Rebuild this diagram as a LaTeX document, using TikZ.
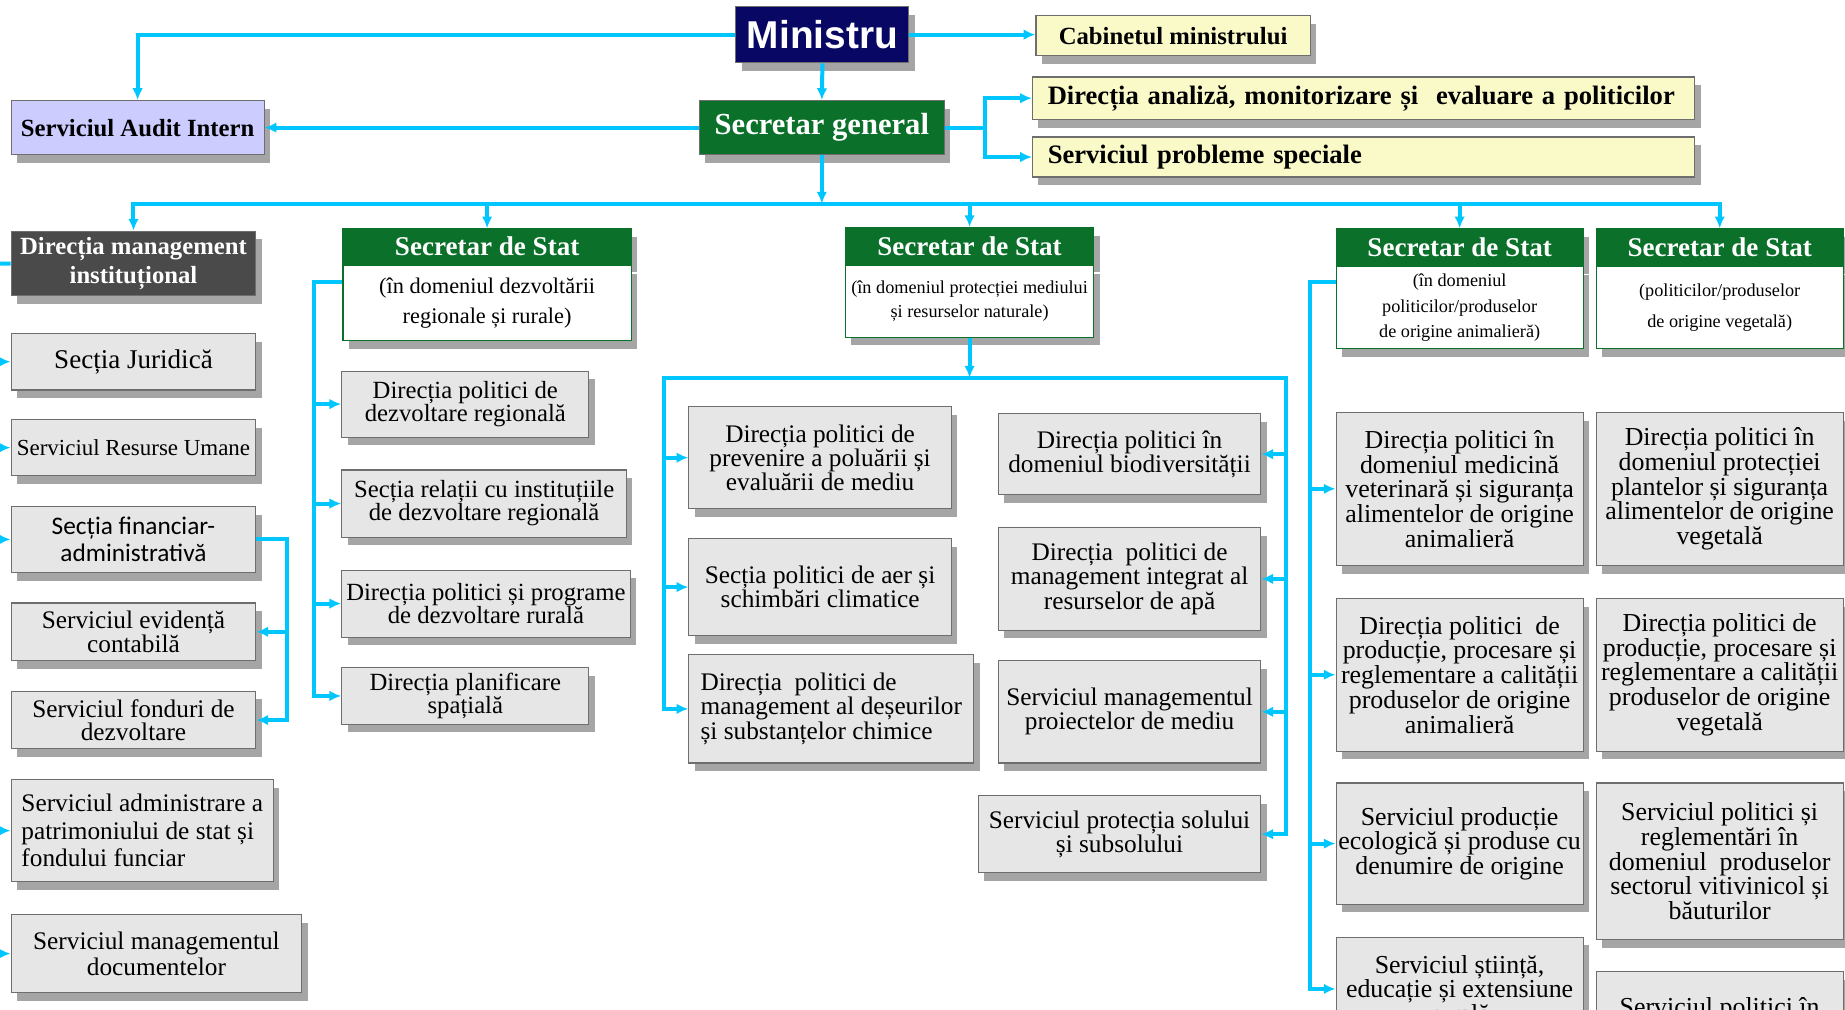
\documentclass[tikz,border=0pt]{standalone}
\usepackage{fontspec}
\setmainfont{Liberation Serif}
\newfontfamily\arialfont{Liberation Sans}
\newfontfamily\calfont{Carlito}
\usetikzlibrary{arrows.meta,shadows}
\definecolor{linkblue}{RGB}{0,198,255}
\definecolor{minblue}{RGB}{8,8,100}
\definecolor{secgreen}{RGB}{10,112,42}
\definecolor{cabyellow}{RGB}{250,250,200}
\definecolor{auditlilac}{RGB}{204,204,255}
\definecolor{mgmtgrey}{RGB}{74,74,74}
\definecolor{unitgrey}{RGB}{230,230,230}
\definecolor{unitline}{RGB}{110,110,110}
\begin{document}
\begin{tikzpicture}
	    [x=1pt, y=-1pt,
	     boxshadow/.style={drop shadow={shadow xshift=5pt, shadow yshift=-7pt, opacity=0.5, fill=black!70}},
	     unit/.style={draw=unitline, fill=unitgrey, line width=0.9pt, anchor=north west, align=center, inner sep=2pt, boxshadow, font=\fontsize{21.5}{20.5}\selectfont},
	     topbox/.style={draw=unitline, fill=cabyellow, line width=0.9pt, anchor=north west, inner sep=2pt, boxshadow, font=\bfseries\fontsize{21}{23}\selectfont},
	     sshead/.style={draw=secgreen, fill=secgreen, text=white, line width=1pt, anchor=north west, inner sep=1pt, boxshadow, font=\bfseries\fontsize{23}{25}\selectfont},
	     ssbody/.style={draw=secgreen, fill=white, line width=1pt, anchor=north, align=center, inner sep=1pt, boxshadow},
	     conn/.style={draw=linkblue, line width=3.4pt},
	     arr/.style={conn, -{Latex[length=10pt, width=9pt]}}]
	    \useasboundingbox (0,0) rectangle (1568,858);
	    \clip (0,0) rectangle (1568,858);
	    % top
	    \node[draw=unitline, fill=minblue, text=white, line width=0.9pt, anchor=north west, boxshadow, minimum width=147pt, minimum height=48pt, font=\arialfont\bfseries\fontsize{33}{36}\selectfont] (min) at (625,5) {Ministru};
	    \node[topbox, minimum width=233pt, minimum height=34pt] (cab) at (880,13) {Cabinetul ministrului};
	    \node[draw=unitline, fill=secgreen, text=white, line width=0.9pt, anchor=north west, boxshadow, minimum width=208pt, minimum height=46pt, font=\bfseries\fontsize{26}{28}\selectfont] (sg) at (594,85) {Secretar general};
	    \node[topbox, fill=auditlilac, minimum width=215pt, minimum height=46pt] (sai) at (9,85) {Serviciul Audit Intern};
	    \node[topbox, align=left, text width=537pt, inner xsep=13pt, minimum height=36pt, font=\bfseries\fontsize{22.6}{24}\selectfont] (dam) at (877,65) {Direcția analiză, monitorizare și\ \ evaluare a politicilor};
	    \node[topbox, align=left, text width=537pt, inner xsep=13pt, minimum height=34pt, font=\bfseries\fontsize{22.6}{24}\selectfont] (sps) at (877,116) {Serviciul probleme speciale};
	    % second row
	    \node[draw=unitline, fill=mgmtgrey, text=white, line width=0.9pt, anchor=north west, align=center, boxshadow, minimum width=208pt, minimum height=55pt, font=\bfseries\fontsize{21}{24}\selectfont] (dmi) at (9,196) {Direcția management\\instituțional};
	    \node[sshead, minimum width=245pt, minimum height=30pt] (ss1h) at (291,194) {Secretar de Stat};
	    \node[ssbody, minimum width=245pt, minimum height=64pt, font=\fontsize{19}{25.5}\selectfont] (ss1) at (ss1h.south) {(în domeniul dezvoltării\\regionale și rurale)};
	    \node[sshead, minimum width=211pt, minimum height=31pt] (ss2h) at (718,193) {Secretar de Stat};
	    \node[ssbody, minimum width=211pt, minimum height=61pt, font=\fontsize{15.5}{21}\selectfont] (ss2) at (ss2h.south) {(în domeniul protecției mediului\\și resurselor naturale)};
	    \node[sshead, minimum width=210pt, minimum height=31pt] (ss3h) at (1135,194) {Secretar de Stat};
	    \node[ssbody, minimum width=210pt, minimum height=70pt, font=\fontsize{15.5}{21.5}\selectfont] (ss3) at (ss3h.south) {(în domeniul\\politicilor/produselor\\de origine animalieră)};
	    \node[sshead, minimum width=210pt, minimum height=31pt] (ss4h) at (1356,194) {Secretar de Stat};
	    \node[ssbody, minimum width=210pt, minimum height=70pt, font=\fontsize{15.5}{27}\selectfont] (ss4) at (ss4h.south) {(politicilor/produselor\\de origine vegetală)};
	    % left column
	    \node[unit, minimum width=208pt, minimum height=48pt, font=\fontsize{23}{24}\selectfont] (sj) at (9,283) {Secția Juridică};
	    \node[unit, minimum width=208pt, minimum height=48pt, font=\fontsize{19.5}{21}\selectfont] (sru) at (9,356) {Serviciul Resurse Umane};
	    \node[unit, minimum width=208pt, minimum height=56pt, font=\calfont\fontsize{21.5}{23}\selectfont] (sfa) at (9,430) {Secția financiar-\\administrativă};
	    \node[unit, minimum width=208pt, minimum height=49pt] (sec) at (9,512) {Serviciul evidență\\contabilă};
	    \node[unit, minimum width=208pt, minimum height=49pt, font=\fontsize{21.5}{19.5}\selectfont] (sfd) at (9,587) {Serviciul fonduri de\\dezvoltare};
	    \node[unit, align=left, minimum width=223pt, minimum height=87pt, font=\fontsize{21.5}{23.5}\selectfont] (sap) at (9,662) {Serviciul administrare a\\patrimoniului de stat și\\fondului funciar};
	    \node[unit, minimum width=247pt, minimum height=66pt, font=\fontsize{21.5}{22}\selectfont] (smd) at (9,777) {Serviciul managementul\\documentelor};
	    % dezvoltare regionala
	    \node[unit, minimum width=210pt, minimum height=56pt, font=\fontsize{21}{19.5}\selectfont] (dpdr) at (290,315) {Direcția politici de\\dezvoltare regională};
	    \node[unit, minimum width=242pt, minimum height=57pt, font=\fontsize{21}{19.5}\selectfont] (srid) at (290,399) {Secția relații cu instituțiile\\de dezvoltare regională};
	    \node[unit, minimum width=245pt, minimum height=57pt, font=\fontsize{21}{19.5}\selectfont] (dppr) at (290,484) {Direcția politici și programe\\de dezvoltare rurală};
	    \node[unit, minimum width=210pt, minimum height=48pt, font=\fontsize{21}{19.5}\selectfont] (dps) at (290,567) {Direcția planificare\\spațială};
	    % mediu
	    \node[unit, minimum width=223pt, minimum height=87pt] (e1) at (585,345) {Direcția politici de\\prevenire a poluării și\\evaluării de mediu};
	    \node[unit, minimum width=223pt, minimum height=83pt] (e2) at (585,457) {Secția politici de aer și\\schimbări climatice};
	    \node[unit, align=left, minimum width=242pt, minimum height=92pt] (e3) at (585,556) {Direcția\ \ politici de\\management al deșeurilor\\și substanțelor chimice};
	    \node[unit, minimum width=223pt, minimum height=69pt] (e4) at (848,351) {Direcția politici în\\domeniul biodiversității};
	    \node[unit, minimum width=223pt, minimum height=87pt] (e5) at (848,448) {Direcția\ \ politici de\\management integrat al\\resurselor de apă};
	    \node[unit, minimum width=223pt, minimum height=87pt] (e6) at (848,561) {Serviciul managementul\\proiectelor de mediu};
	    \node[unit, minimum width=240pt, minimum height=65pt] (e7) at (831,676) {Serviciul protecția solului\\și subsolului};
	    % animal / vegetal
	    \node[unit, minimum width=210pt, minimum height=130pt, font=\fontsize{22}{21}\selectfont] (r1) at (1135,350) {Direcția politici în\\domeniul medicină\\veterinară și siguranța\\alimentelor de origine\\animalieră};
	    \node[unit, minimum width=210pt, minimum height=130pt, font=\fontsize{22}{21}\selectfont] (r2) at (1135,508) {Direcția politici\ \ de\\producție, procesare și\\reglementare a calității\\produselor de origine\\animalieră};
	    \node[unit, minimum width=210pt, minimum height=103pt, font=\fontsize{22}{21}\selectfont] (r3) at (1135,665) {Serviciul producție\\ecologică și produse cu\\denumire de origine};
	    \node[unit, minimum width=210pt, minimum height=88pt, font=\fontsize{22}{21}\selectfont] (r4) at (1135,796) {Serviciul știință,\\educație și extensiune\\rurală};
	    \node[unit, minimum width=210pt, minimum height=130pt, font=\fontsize{22}{21}\selectfont] (v1) at (1356,350) {Direcția politici în\\domeniul protecției\\plantelor și siguranța\\alimentelor de origine\\vegetală};
	    \node[unit, minimum width=210pt, minimum height=130pt, font=\fontsize{22}{21}\selectfont] (v2) at (1356,508) {Direcția politici de\\producție, procesare și\\reglementare a calității\\produselor de origine\\vegetală};
	    \node[unit, minimum width=210pt, minimum height=133pt, font=\fontsize{22}{21}\selectfont] (v3) at (1356,665) {Serviciul politici și\\reglementări în\\domeniul\ \ produselor\\sectorul vitivinicol și\\băuturilor};
	    \node[unit, minimum width=210pt, minimum height=64pt, font=\fontsize{22}{21}\selectfont] (v4) at (1356,825) {Serviciul politici în};
	    % connectors
	    \coordinate (bus) at (697,173);
	    \coordinate (lb) at (-12,224);
	    \coordinate (l1) at (267,240);
	    \coordinate (b2l) at (564,321);
	    \coordinate (b2r) at (1093,321);
	    \coordinate (l3) at (1113,240);
	    \draw[arr] (min.west) -| (sai.north);
	    \draw[arr] (min.east) -- (min.east -| cab.west);
	    \draw[arr] (min.south) -- (sg.north);
	    \draw[arr] (sg.west) -- (sai.east);
	    \draw[conn] (sg.east) -- ++(34,0) coordinate (sgr);
	    \draw[arr] (sgr) |- (dam.west);
	    \draw[arr] (sgr) |- (sps.west);
	    \draw[arr] (sg.south) -- (sg.south |- bus);
	    \draw[arr] (bus) -| (dmi.north);
	    \draw[arr] (bus) -| (ss4h.north);
	    \draw[arr] (bus -| ss1h.north) -- (ss1h.north);
	    \draw[arr] (bus -| ss2h.north) -- (ss2h.north);
	    \draw[arr] (bus -| ss3h.north) -- (ss3h.north);
	    \draw[arr] (dmi.west) -- (lb) |- (smd.west);
	    \draw[arr] (lb |- sj.west) -- (sj.west);
	    \draw[arr] (lb |- sru.west) -- (sru.west);
	    \draw[arr] (lb |- sfa.west) -- (sfa.west);
	    \draw[arr] (lb |- sap.west) -- (sap.west);
	    \draw[arr] (sfa.east) -- ++(26,0) coordinate (fr) |- (sfd.east);
	    \draw[arr] (fr |- sec.east) -- (sec.east);
	    \draw[arr] (l1 -| ss1.west) -- (l1) |- (dps.west);
	    \draw[arr] (l1 |- dpdr.west) -- (dpdr.west);
	    \draw[arr] (l1 |- srid.west) -- (srid.west);
	    \draw[arr] (l1 |- dppr.west) -- (dppr.west);
	    \draw[arr] (ss2.south) -- (ss2.south |- b2l);
	    \draw[arr] (ss2.south |- b2l) -- (b2l) |- (e3.west);
	    \draw[arr] (ss2.south |- b2l) -- (b2r) |- (e7.east);
	    \draw[arr] (b2l |- e1.west) -- (e1.west);
	    \draw[arr] (b2l |- e2.west) -- (e2.west);
	    \draw[arr] (b2r |- e4.east) -- (e4.east);
	    \draw[arr] (b2r |- e5.east) -- (e5.east);
	    \draw[arr] (b2r |- e6.east) -- (e6.east);
	    \draw[arr] (l3 -| ss3.west) -- (l3) |- (r4.west);
	    \draw[arr] (l3 |- r1.west) -- (r1.west);
	    \draw[arr] (l3 |- r2.west) -- (r2.west);
	    \draw[arr] (l3 |- r3.west) -- (r3.west);
\end{tikzpicture}
\end{document}
